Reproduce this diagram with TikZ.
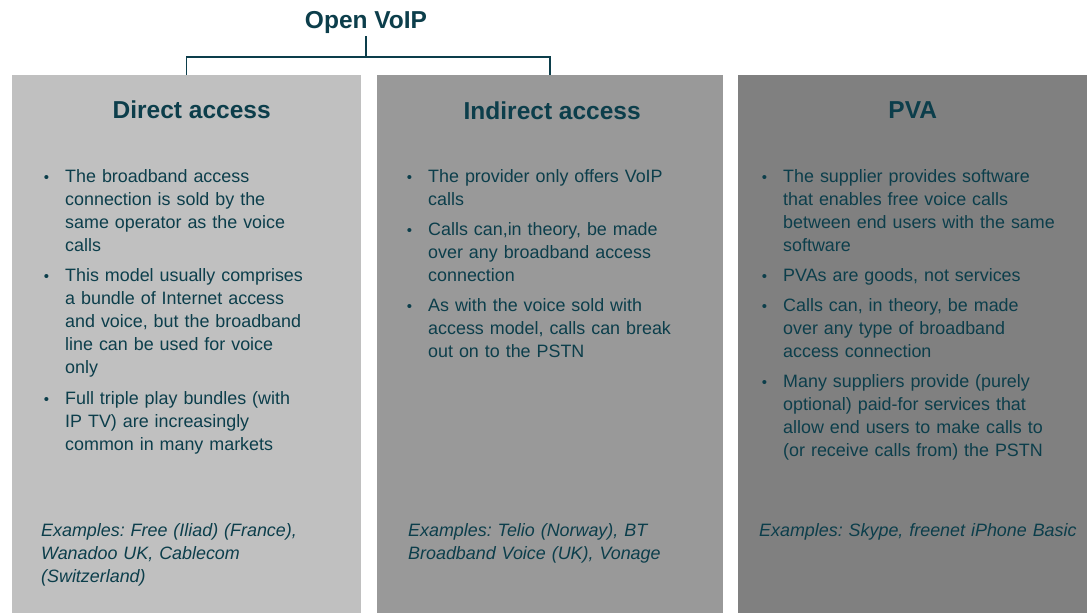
\documentclass[tikz,border=0pt]{standalone}
\usepackage{fontspec}
\setmainfont{Liberation Sans}
\usetikzlibrary{positioning}

\definecolor{voipteal}{HTML}{0C3E4B}
\definecolor{greyA}{HTML}{C0C0C0}
\definecolor{greyB}{HTML}{999999}
\definecolor{greyC}{HTML}{808080}

% bullet hanging left of the first line
\newcommand{\itm}{\makebox[0pt][r]{{\fontsize{15}{15}\selectfont\textbullet}\hspace{16pt}}}

\begin{document}
\frenchspacing
\begin{tikzpicture}[x=1pt, y=-1pt,
	panel/.style={fill=#1, anchor=north west, minimum width=349, minimum height=538, inner sep=0},
	head/.style={font=\fontsize{24.5}{28}\selectfont\bfseries, text=voipteal, anchor=base},
	item/.style={font=\fontsize{17.9}{23}\selectfont, text=voipteal, text width=330, align=left, anchor=base west, inner sep=0},
	example/.style={item, font=\fontsize{17.9}{23}\selectfont\itshape},
	bracket/.style={draw=voipteal, line width=1.5pt}]
	
	\useasboundingbox (0,0) rectangle (1087,613);
	
	% the three columns
	\node [panel=greyA] (direct) at (12,75) {};
	\node [panel=greyB, minimum width=346] (indirect) at (377,75) {};
	\node [panel=greyC] (pva) at (738,75) {};
	
	% top of the tree
	\node [head, inner sep=3pt] (open) at (366,28) {Open VoIP};
	\coordinate (fork) at (366,57);
	\draw [bracket] (open.south) -- (fork);
	\draw [bracket] (direct.north) |- (fork) -| (indirect.north);
	
	\node [head] (directhead) at ([xshift=5, yshift=-43]direct.north) {Direct access};
	\node [head] (indirecthead) at ([xshift=2, yshift=-44]indirect.north) {Indirect access};
	\node [head] (pvahead) at ([yshift=-43]pva.north) {PVA};
	
	% Direct access
	\node [item] (d1) at (65,182) {\itm The broadband access\\connection is sold by the\\same operator as the voice\\calls};
	\node [item] (d2) at (65,281) {\itm This model usually comprises\\a bundle of Internet access\\and voice, but the broadband\\line can be used for voice\\only};
	\node [item] (d3) at (65,404) {\itm Full triple play bundles (with\\IP TV) are increasingly\\common in many markets};
	\node [example] (dex) at (41,536) {Examples: Free (Iliad) (France),\\Wanadoo UK, Cablecom\\(Switzerland)};
	
	% Indirect access
	\node [item] (i1) at (428,182) {\itm The provider only offers VoIP\\calls};
	\node [item] (i2) at (428,235) {\itm Calls can,in theory, be made\\over any broadband access\\connection};
	\node [item] (i3) at (428,311) {\itm As with the voice sold with\\access model, calls can break\\out on to the PSTN};
	\node [example] (iex) at (408,536) {Examples: Telio (Norway), BT\\Broadband Voice (UK), Vonage};
	
	% PVA
	\node [item] (p1) at (783,182) {\itm The supplier provides software\\that enables free voice calls\\between end users with the same\\software};
	\node [item] (p2) at (783,281) {\itm PVAs are goods, not services};
	\node [item] (p3) at (783,311) {\itm Calls can, in theory, be made\\over any type of broadband\\access connection};
	\node [item] (p4) at (783,387) {\itm Many suppliers provide (purely\\optional) paid-for services that\\allow end users to make calls to\\(or receive calls from) the PSTN};
	\node [example] (pex) at (759,536) {Examples: Skype, freenet iPhone Basic};
\end{tikzpicture}
\end{document}
